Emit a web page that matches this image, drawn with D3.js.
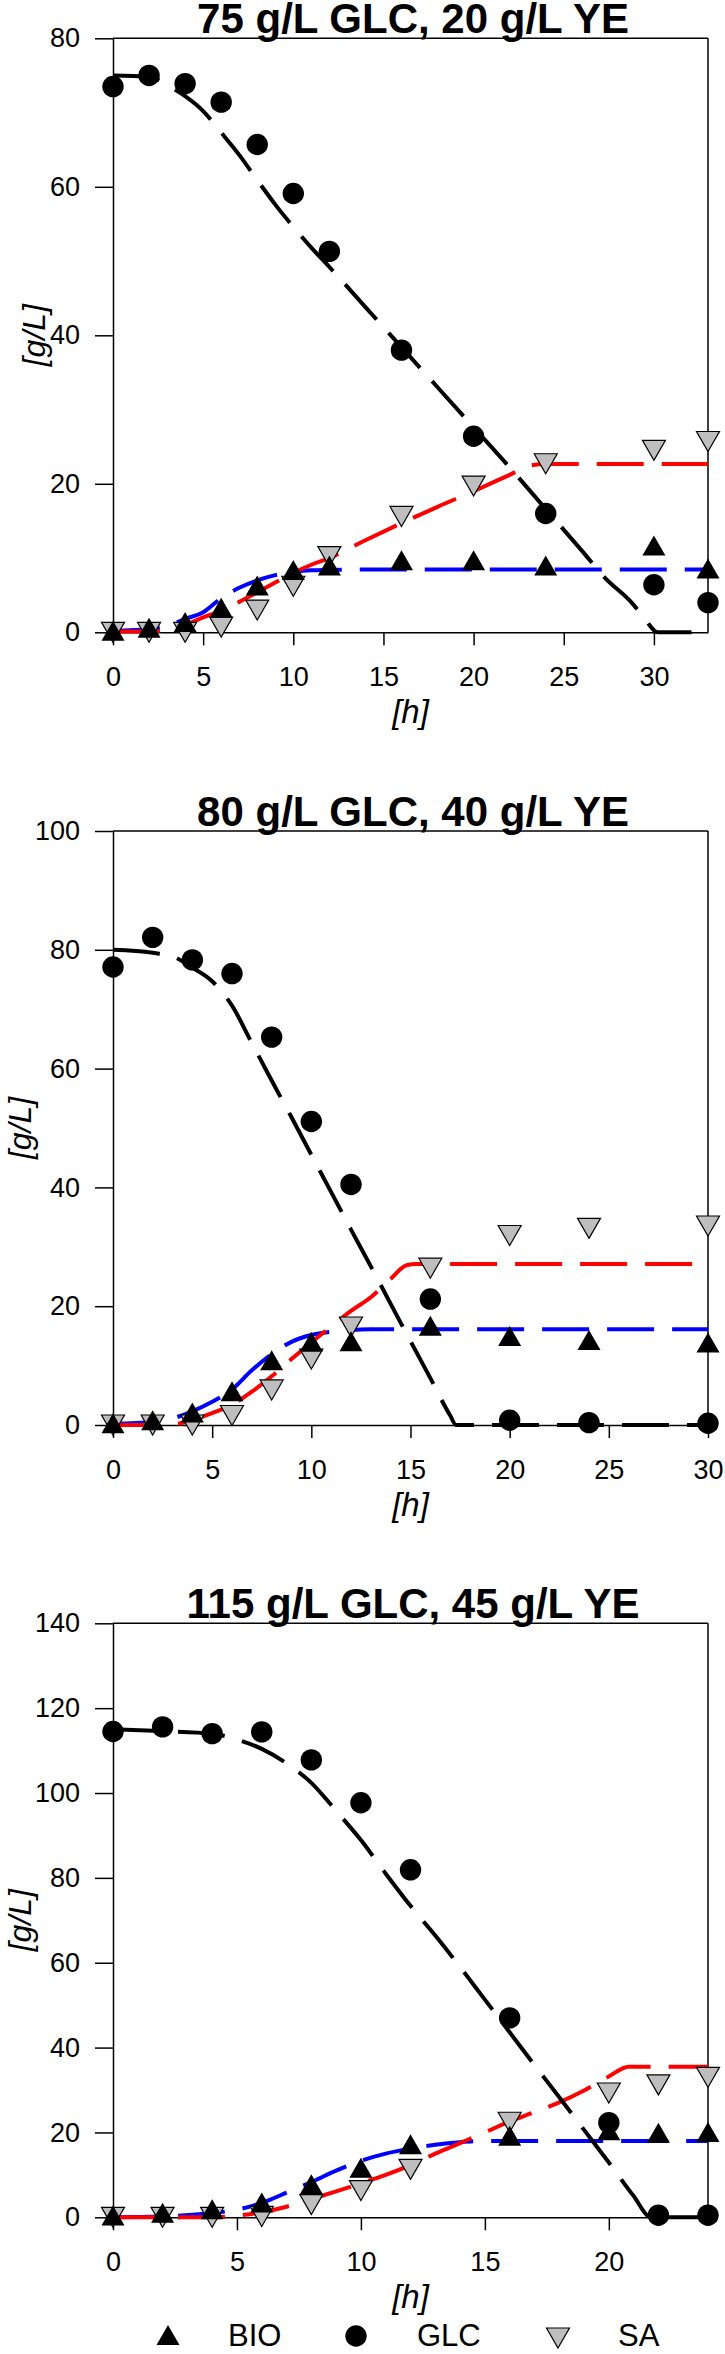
<!DOCTYPE html>
<html><head><meta charset="utf-8">
<script src="https://cdn.jsdelivr.net/npm/d3@7"></script>
<style>body{margin:0;background:#fff}</style>
</head><body>
<svg id="chart" width="725" height="2354"></svg>
<script>
// ---------- DATA ----------
const titles = ["75 g/L GLC, 20 g/L YE", "80 g/L GLC, 40 g/L YE", "115 g/L GLC, 45 g/L YE"];
const xMaxes = [33, 30, 24];
const yMaxes = [80, 100, 140];
const xTickVals1 = [0, 5, 10, 15, 20, 25, 30];
const xTickVals2 = [0, 5, 10, 15, 20, 25, 30];
const xTickVals3 = [0, 5, 10, 15, 20];
const yTickVals1 = [0, 20, 40, 60, 80];
const yTickVals2 = [0, 20, 40, 60, 80, 100];
const yTickVals3 = [0, 20, 40, 60, 80, 100, 120, 140];
const legendLabels = ["BIO", "GLC", "SA"];

// Panel 1: 75 g/L GLC, 20 g/L YE
const time1 = [0, 2, 4, 6, 8, 10, 12, 16, 20, 24, 30, 33];
const glc1 = [73.5, 75.0, 73.9, 71.4, 65.7, 59.1, 51.3, 38.0, 26.4, 16.0, 6.4, 4.0];
const bio1 = [0.2, 0.6, 1.4, 3.3, 6.3, 8.4, 9.0, 9.7, 9.7, 9.0, 11.7, 8.6];
const sa1  = [0, 0, 0, 0.7, 3.0, 6.2, 10.2, 15.6, 19.7, 22.7, 24.5, 25.7];
const glcFit1 = [[0,75],[2,74.8],[3,73.7],[4,72.2],[5,70.2],[6,67.3],[7,64.3],[8,60.9],[9,57.6],[10,54.6],[11,51.8],[12,49.2],[14,43.8],[16,38.4],[18,33.0],[20,27.6],[22,22.2],[24,16.6],[26,11.0],[27.3,7.3],[28.8,3.9],[29.5,1.8],[30.2,0],[33,0]];
const bioFit1 = [[0,0.2],[2,0.4],[3,0.8],[4,1.8],[5,2.7],[6,4.6],[7,6.0],[8,7.0],[9,7.7],[10,8.15],[11,8.35],[12,8.4],[14,8.45],[33,8.45]];
const saFit1  = [[0,0.1],[2,0.1],[3,0.3],[4,1.0],[5,2.0],[6,2.9],[7,4.1],[8,5.4],[9,6.7],[10,8.0],[11,9.1],[12,10.0],[14,12.4],[16,14.7],[18,16.9],[20,19.0],[22,21.2],[23.2,22.5],[24,22.65],[33,22.65]];

// Panel 2: 80 g/L GLC, 40 g/L YE
const time2 = [0, 2, 4, 6, 8, 10, 12, 16, 20, 24, 30];
const glc2 = [77.1, 82.1, 78.3, 76.0, 65.3, 51.1, 40.5, 21.2, 0.8, 0.4, 0.3];
const bio2 = [0.3, 0.8, 2.1, 5.7, 10.9, 14.0, 14.1, 16.7, 15.0, 14.3, 13.9];
const sa2  = [0, 0, 0, 1.6, 5.9, 11.1, 16.5, 26.4, 31.9, 33.1, 33.5];
const glcFit2 = [[0,80],[2,79.5],[3,78.9],[4,77.0],[5,74.7],[6,70.6],[7,64.3],[8,58.0],[9,51.8],[10,45.5],[11,39.2],[12,32.9],[13,26.7],[14,20.4],[15,14.1],[16,7.9],[17,1.6],[17.3,0],[30,0]];
const bioFit2 = [[0,0.2],[2,0.5],[3,1.1],[4,2.3],[5,3.9],[6,6.0],[7,9.2],[8,11.9],[9,14.0],[10,15.15],[11,15.7],[12,16.0],[13,16.1],[30,16.1]];
const saFit2  = [[0,0],[2,0],[3,0.1],[4,0.8],[5,2.0],[6,3.4],[7,5.6],[8,8.2],[9,11.1],[10,13.9],[11,16.6],[12,19.2],[13,21.5],[14,24.6],[14.8,26.9],[15.3,27.1],[30,27.1]];

// Panel 3: 115 g/L GLC, 45 g/L YE
const time3 = [0, 2, 4, 6, 8, 10, 12, 16, 20, 22, 24];
const glc3 = [114.5, 115.6, 114.0, 114.4, 107.8, 97.7, 81.9, 47.0, 22.3, 0.5, 0.5];
const bio3 = [0.4, 1.1, 1.9, 3.5, 7.8, 11.7, 17.2, 19.2, 20.5, 19.9, 20.1];
const sa3  = [0, 0, 0, 0.2, 3.0, 6.3, 11.3, 22.4, 29.3, 31.2, 33.0];
const glcFit3 = [[0,115],[2,114.6],[4,114.0],[5,112.6],[6,110.4],[7,107.0],[8,102.4],[9,95.8],[10,88.9],[11,81.0],[12,73.4],[13,66.4],[14,59.0],[15,51.3],[16,43.6],[17,35.9],[18,28.3],[19,20.6],[20,12.9],[21,5.0],[21.7,0],[24,0]];
const bioFit3 = [[0,0],[2,0.2],[4,1.0],[5,1.8],[6,3.4],[7,5.8],[8,8.3],[9,11.0],[10,13.3],[11,15.0],[12,16.2],[13,17.1],[14,17.7],[15,18.0],[24,18.0]];
const saFit3  = [[0,0],[4,0],[5,0.4],[6,1.2],[7,2.5],[8,4.3],[9,6.1],[10,8.0],[11,10.0],[12,12.3],[13,15.0],[14,17.5],[15,20.0],[16,22.6],[17,24.8],[18,27.1],[19,29.9],[20,33.2],[20.8,35.5],[24,35.5]];

// ---------- DRAWING ----------
const FONT = "'Liberation Sans', Arial, Helvetica, sans-serif";
const GRAY = "#bebebe";
const svg = d3.select("#chart");
svg.append("rect").attr("width", 725).attr("height", 2354).attr("fill", "#fff");

const L = 113, R = 708, H = 594;
const tops = [38.3, 831, 1623.3];
const yTitleX = [45, 31, 31];

const panels = [
  {t: time1, glc: glc1, bio: bio1, sa: sa1, glcFit: glcFit1, bioFit: bioFit1, saFit: saFit1, xTicks: xTickVals1, yTicks: yTickVals1},
  {t: time2, glc: glc2, bio: bio2, sa: sa2, glcFit: glcFit2, bioFit: bioFit2, saFit: saFit2, xTicks: xTickVals2, yTicks: yTickVals2},
  {t: time3, glc: glc3, bio: bio3, sa: sa3, glcFit: glcFit3, bioFit: bioFit3, saFit: saFit3, xTicks: xTickVals3, yTicks: yTickVals3}
];

const triUp = "M0,-10L11.5,10L-11.5,10Z";
const triDown = "M0,10L11.5,-10L-11.5,-10Z";

panels.forEach((p, i) => {
  const top = tops[i], bottom = top + H;
  const x = d3.scaleLinear().domain([0, xMaxes[i]]).range([L, R]);
  const y = d3.scaleLinear().domain([0, yMaxes[i]]).range([bottom, top]);
  const g = svg.append("g");

  // frame top / right
  g.append("line").attr("x1", L).attr("x2", R).attr("y1", top).attr("y2", top)
    .attr("stroke", "#000").attr("stroke-width", 1.5);
  g.append("line").attr("x1", R).attr("x2", R).attr("y1", top).attr("y2", bottom)
    .attr("stroke", "#000").attr("stroke-width", 1.5);

  const xa = g.append("g").attr("transform", `translate(0,${bottom})`)
    .call(d3.axisBottom(x).tickValues(p.xTicks).tickSize(13).tickSizeOuter(0).tickPadding(22));
  const ya = g.append("g").attr("transform", `translate(${L},0)`)
    .call(d3.axisLeft(y).tickValues(p.yTicks).tickSize(18).tickSizeOuter(0).tickPadding(15));
  [xa, ya].forEach(a => {
    a.attr("font-family", FONT).attr("font-size", 27);
    a.selectAll("path,line").attr("stroke", "#000").attr("stroke-width", 1.5);
    a.selectAll("text").attr("fill", "#000");
  });

  // title
  g.append("text").attr("x", 413).attr("y", top - 5).attr("text-anchor", "middle")
    .attr("font-family", FONT).attr("font-weight", "bold").attr("font-size", 42)
    .text(titles[i]);
  // axis titles
  g.append("text").attr("x", (L + R) / 2).attr("y", bottom + 91).attr("text-anchor", "middle")
    .attr("font-family", FONT).attr("font-style", "italic").attr("font-size", 33).text("[h]");
  g.append("text").attr("transform", `translate(${yTitleX[i]},${top + H / 2}) rotate(-90)`)
    .attr("text-anchor", "middle").attr("font-family", FONT).attr("font-style", "italic")
    .attr("font-size", 32).text("[g/L]");

  // model lines
  const line = d3.line().x(d => x(d[0])).y(d => y(d[1])).curve(d3.curveMonotoneX);
  [[p.bioFit, "#0000ff"], [p.saFit, "#ff0000"], [p.glcFit, "#000000"]].forEach(([d, c]) => {
    g.append("path").datum(d).attr("d", line).attr("fill", "none").attr("stroke", c)
      .attr("stroke-width", 4).attr("stroke-dasharray", "47,18");
  });

  // markers
  g.selectAll(".sa").data(p.t.map((t, k) => [t, p.sa[k]])).join("path")
    .attr("transform", d => `translate(${x(d[0])},${y(d[1])})`).attr("d", triDown)
    .attr("fill", GRAY).attr("stroke", "#000").attr("stroke-width", 1.2);
  g.selectAll(".glc").data(p.t.map((t, k) => [t, p.glc[k]])).join("circle")
    .attr("cx", d => x(d[0])).attr("cy", d => y(d[1])).attr("r", 10.7).attr("fill", "#000");
  g.selectAll(".bio").data(p.t.map((t, k) => [t, p.bio[k]])).join("path")
    .attr("transform", d => `translate(${x(d[0])},${y(d[1])})`).attr("d", triUp)
    .attr("fill", "#000");
});

// legend
const lg = svg.append("g").attr("font-family", FONT).attr("font-size", 31);
const legX = [168, 356, 558], legTX = [228, 417, 618];
legendLabels.forEach((lab, k) => {
  if (k === 0) lg.append("path").attr("transform", `translate(${legX[k]},2335)`).attr("d", triUp).attr("fill", "#000");
  if (k === 1) lg.append("circle").attr("cx", legX[k]).attr("cy", 2336).attr("r", 10.7).attr("fill", "#000");
  if (k === 2) lg.append("path").attr("transform", `translate(${legX[k]},2338)`).attr("d", triDown)
    .attr("fill", GRAY).attr("stroke", "#000").attr("stroke-width", 1.2);
  lg.append("text").attr("x", legTX[k]).attr("y", 2346).text(lab);
});
</script>
</body></html>
